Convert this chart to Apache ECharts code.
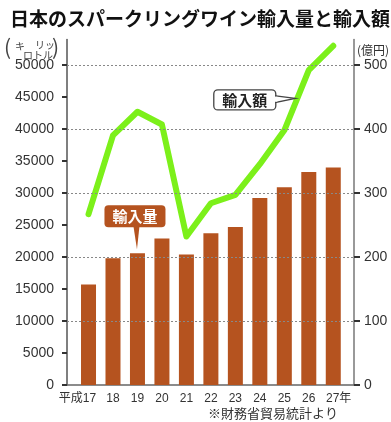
<!DOCTYPE html>
<html><head><meta charset="utf-8">
<script src="https://cdn.jsdelivr.net/npm/echarts@6/dist/echarts.min.js"></script>
<style>html,body{margin:0;padding:0;background:#fff}#c{width:391px;height:422px}</style>
</head><body><div id="c"></div>
<script>
const years = [17, 18, 19, 20, 21, 22, 23, 24, 25, 26, 27];
const yearLabels = ['平成17', '18', '19', '20', '21', '22', '23', '24', '25', '26', '27年'];
const volume = [15700, 19800, 20600, 22900, 20400, 23700, 24700, 29200, 30900, 33300, 34000];
const amount = [267, 390, 427, 407, 232, 284, 297, 345, 398, 492, 530];
const leftTicks = [0, 5000, 10000, 15000, 20000, 25000, 30000, 35000, 40000, 45000, 50000];
const rightTicks = [0, 100, 200, 300, 400, 500];
const gridLines = [10000, 20000, 30000, 40000, 50000];

const FONT = "'Liberation Sans', 'Noto Sans CJK JP', sans-serif";
const JP = "'Noto Sans CJK JP', sans-serif";
const BROWN = '#b5531f';
const GREEN = '#7cf01a';

// label anchor positions: first/last labels nudged so their numerals sit under the bars
const labelPos = years.map((y, i) => i === 0 ? y - 0.45 : (i === years.length - 1 ? y + 0.22 : y));

const chart = echarts.init(document.getElementById('c'), null, {renderer: 'canvas'});
chart.setOption({
  animation: false,
  backgroundColor: '#fff',
  grid: {left: 67, right: 37, top: 39.4, bottom: 37, containLabel: false},
  xAxis: {
    type: 'value', min: 16.121, max: 27.847,
    axisLine: {show: true, lineStyle: {color: '#666', width: 1.5}},
    axisTick: {show: false},
    splitLine: {show: false},
    axisLabel: {
      customValues: labelPos,
      hideOverlap: false, showMinLabel: true, showMaxLabel: true,
      margin: 8,
      color: '#333', fontSize: 12, fontFamily: FONT,
      formatter: function (v) {
        const i = years.indexOf(Math.round(v));
        return yearLabels[i];
      }
    }
  },
  yAxis: [{
    type: 'value', min: 0, max: 54000,
    axisLine: {show: true, lineStyle: {color: '#555', width: 1.5}},
    axisTick: {show: true, customValues: leftTicks, length: 5, lineStyle: {color: '#333', width: 2}},
    splitLine: {show: false},
    axisLabel: {customValues: leftTicks, hideOverlap: false, margin: 13, color: '#333', fontSize: 14, fontFamily: FONT,
      formatter: v => String(v)}
  }, {
    type: 'value', min: 0, max: 540, position: 'right',
    axisLine: {show: true, lineStyle: {color: '#777', width: 1.5}},
    axisTick: {show: true, customValues: rightTicks, length: 6, lineStyle: {color: '#333', width: 2}},
    splitLine: {show: false},
    axisLabel: {customValues: rightTicks, hideOverlap: false, margin: 10, color: '#333', fontSize: 14, fontFamily: FONT,
      formatter: v => String(v)}
  }],
  series: [{
    type: 'bar', yAxisIndex: 0, barWidth: 15,
    itemStyle: {color: BROWN},
    data: years.map((y, i) => [y, volume[i]]),
    markLine: {
      silent: true, symbol: ['none', 'none'], label: {show: false},
      lineStyle: {type: [2, 2], color: '#888', width: 1},
      data: gridLines.map(v => ({yAxis: v}))
    },
    z: 2
  }, {
    type: 'line', yAxisIndex: 1, symbol: 'none',
    lineStyle: {color: GREEN, width: 6, cap: 'round', join: 'round'},
    data: years.map((y, i) => [y, amount[i]]),
    z: 3
  }]
});

const pv = chart.convertToPixel({seriesIndex: 0}, [years[2], volume[2]]);
const a = chart.convertToPixel({seriesIndex: 1}, [years[8], amount[8]]);
const b = chart.convertToPixel({seriesIndex: 1}, [years[9], amount[9]]);
const t = 0.53;
const tip = [a[0] + t * (b[0] - a[0]), a[1] + t * (b[1] - a[1])];
const rx = tip[0] - 83.5, ry = tip[1] - 8.5, rw = 62, rh = 20;

chart.setOption({
  graphic: [
    {type: 'text', left: 10, top: 9, style: {text: '日本のスパークリングワイン輸入量と輸入額', font: 'bold 19px ' + JP, fill: '#111'}},
    {type: 'text', x: 4, y: 37, style: {text: '(', font: '21px ' + JP, fill: '#444'}},
    {type: 'text', x: 52, y: 37, style: {text: ')', font: '21px ' + JP, fill: '#444'}},
    {type: 'text', x: 15, y: 41, style: {text: 'キ', font: '10px ' + JP, fill: '#444'}},
    {type: 'text', x: 35, y: 40, style: {text: 'リッ', font: '10px ' + JP, fill: '#444'}},
    {type: 'text', x: 23, y: 50, style: {text: 'ロトル', font: '10px ' + JP, fill: '#444'}},
    {type: 'text', x: 357, y: 44, style: {text: '(億円)', font: '12px ' + JP, fill: '#333'}},
    {type: 'text', x: 208, y: 407, style: {text: '※財務省貿易統計より', font: '13px ' + JP, fill: '#333'}},
    {type: 'polygon', shape: {points: [[pv[0] - 4, pv[1] - 27], [pv[0] + 2, pv[1] - 27], [pv[0] - 0.5, pv[1] - 4]]}, style: {fill: BROWN}, z: 10},
    {type: 'rect', shape: {x: pv[0] - 33, y: pv[1] - 48, width: 61, height: 22, r: 4}, style: {fill: BROWN}, z: 10},
    {type: 'text', x: pv[0] - 2.5, y: pv[1] - 37, style: {text: '輸入量', font: 'bold 15px ' + JP, fill: '#fff', align: 'center', verticalAlign: 'middle'}, z: 11},
    {type: 'rect', shape: {x: rx, y: ry, width: rw, height: rh, r: 4}, style: {fill: '#fff', stroke: '#444', lineWidth: 1.3}, z: 10},
    {type: 'polygon', shape: {points: [[rx + rw, tip[1] - 2.5], [tip[0] - 2, tip[1]], [rx + rw, tip[1] + 4]]}, style: {fill: '#fff', stroke: '#444', lineWidth: 1.3}, z: 10},
    {type: 'rect', shape: {x: rx + rw - 1.5, y: tip[1] - 1.8, width: 3, height: 5.2}, style: {fill: '#fff'}, z: 11},
    {type: 'text', x: rx + rw / 2, y: ry + rh / 2, style: {text: '輸入額', font: 'bold 15px ' + JP, fill: '#222', align: 'center', verticalAlign: 'middle'}, z: 11}
  ]
});
</script>
</body></html>
